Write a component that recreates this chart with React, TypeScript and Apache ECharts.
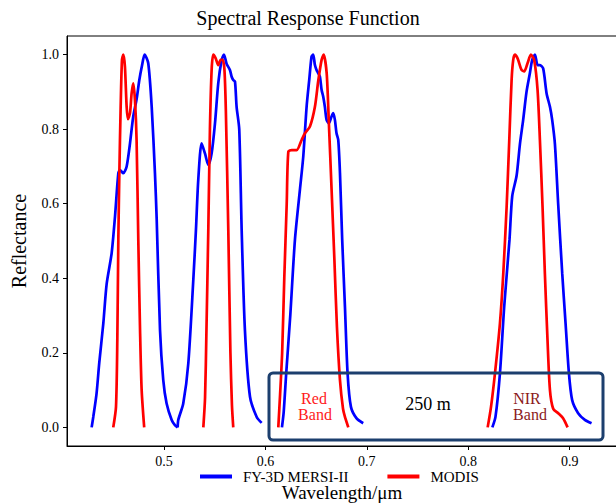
import React, { useEffect, useRef } from "react";
import * as echarts from "echarts";

const seriesNames = ["FY-3D MERSI-II", "MODIS"];
const seriesColors = ["#0000ff", "#ff0000"];
const xTicks = [0.5, 0.6, 0.7, 0.8, 0.9];
const yTicks = [0, 0.2, 0.4, 0.6, 0.8, 1.0];

// FY-3D MERSI-II spectral response (wavelength µm, response)
const mersiBand1 = [
  [0.4287, 0], [0.4303, 0.028], [0.4335, 0.09], [0.4362, 0.173], [0.4402, 0.279], [0.4435, 0.385],
  [0.4484, 0.467], [0.4517, 0.565], [0.455, 0.682], [0.4566, 0.69], [0.4599, 0.682], [0.4632, 0.7],
  [0.4665, 0.762], [0.4697, 0.834], [0.473, 0.88], [0.4757, 0.932], [0.4783, 0.97], [0.4809, 1.0],
  [0.4845, 0.977], [0.4879, 0.86], [0.4911, 0.682], [0.4928, 0.56], [0.4961, 0.261], [0.4993, 0.127],
  [0.5026, 0.064], [0.5076, 0.02], [0.5108, 0.006], [0.5135, 0],
];
const mersiBand2 = [
  [0.5135, 0], [0.5141, 0.02], [0.519, 0.064], [0.524, 0.172], [0.5289, 0.395], [0.5315, 0.529],
  [0.5338, 0.664], [0.5371, 0.762], [0.5404, 0.735], [0.5437, 0.704], [0.547, 0.735], [0.5503, 0.816],
  [0.5535, 0.923], [0.5569, 0.986], [0.5591, 1.0], [0.5618, 0.975], [0.565, 0.959], [0.5668, 0.94],
  [0.5683, 0.932], [0.57, 0.928], [0.5716, 0.86], [0.5742, 0.8], [0.5766, 0.529], [0.5798, 0.261],
  [0.5848, 0.082], [0.5914, 0.028], [0.5963, 0.012],
];
const mersiBand3 = [
  [0.6163, 0], [0.618, 0.04], [0.6205, 0.145], [0.6245, 0.3], [0.6291, 0.503], [0.634, 0.637],
  [0.6373, 0.726], [0.6406, 0.86], [0.6432, 0.932], [0.6455, 0.995], [0.6471, 1.0], [0.6488, 0.972],
  [0.6504, 0.959], [0.6521, 0.95], [0.6537, 0.941], [0.6554, 0.905], [0.657, 0.887], [0.6586, 0.86],
  [0.6603, 0.825], [0.6626, 0.816], [0.6652, 0.834], [0.6668, 0.843], [0.6685, 0.825], [0.6701, 0.789],
  [0.6718, 0.771], [0.6735, 0.682], [0.6757, 0.503], [0.6784, 0.324], [0.681, 0.145], [0.6843, 0.055],
  [0.6899, 0.024], [0.6964, 0.011],
];
const mersiBand4 = [
  [0.8237, 0], [0.8268, 0.028], [0.8312, 0.145], [0.8354, 0.324], [0.8406, 0.503], [0.8433, 0.62],
  [0.8476, 0.675], [0.8509, 0.76], [0.8541, 0.825], [0.8574, 0.9], [0.8607, 0.95], [0.863, 0.986],
  [0.8657, 1.0], [0.8683, 0.972], [0.8706, 0.972], [0.8738, 0.963], [0.8772, 0.896], [0.8805, 0.86],
  [0.8827, 0.825], [0.8854, 0.76], [0.8886, 0.6], [0.8926, 0.413], [0.8959, 0.279], [0.8992, 0.145],
  [0.9024, 0.073], [0.9083, 0.038], [0.9149, 0.02], [0.9215, 0.011],
];

// MODIS spectral response (wavelength µm, response)
const modisBand1 = [
  [0.45, 0], [0.4527, 0.055], [0.454, 0.234], [0.455, 0.503], [0.456, 0.682], [0.4573, 0.86],
  [0.4586, 0.986], [0.4599, 1.0], [0.4615, 0.968], [0.4632, 0.86], [0.4645, 0.827], [0.4665, 0.843],
  [0.4681, 0.896], [0.4697, 0.923], [0.4714, 0.878], [0.473, 0.771], [0.4747, 0.5], [0.4765, 0.25],
  [0.478, 0.1], [0.4805, 0],
];
const modisBand2 = [
  [0.5388, 0], [0.5405, 0.08], [0.5418, 0.25], [0.5437, 0.53], [0.5453, 0.8], [0.547, 0.96],
  [0.5486, 1.0], [0.551, 0.99], [0.5535, 0.972], [0.5559, 0.986], [0.5579, 0.986], [0.5596, 0.96],
  [0.561, 0.85], [0.5634, 0.53], [0.5655, 0.2], [0.567, 0.06], [0.5683, 0],
];
const modisBand3 = [
  [0.6127, 0], [0.6145, 0.09], [0.6165, 0.2], [0.6186, 0.4], [0.621, 0.6], [0.6226, 0.74],
  [0.6259, 0.744], [0.6308, 0.744], [0.6357, 0.771], [0.639, 0.789], [0.6439, 0.807], [0.6488, 0.86],
  [0.6521, 0.93], [0.6554, 0.986], [0.6574, 1.0], [0.6604, 0.95], [0.6625, 0.82], [0.6652, 0.64],
  [0.668, 0.45], [0.6705, 0.27], [0.6735, 0.127], [0.6765, 0.05], [0.6784, 0.028], [0.6817, 0],
];
const modisBand4 = [
  [0.8191, 0], [0.8224, 0.055], [0.8263, 0.145], [0.8312, 0.279], [0.8345, 0.413], [0.8378, 0.592],
  [0.8404, 0.771], [0.8427, 0.932], [0.8443, 0.986], [0.846, 1.0], [0.8486, 0.99], [0.8525, 0.959],
  [0.8551, 0.955], [0.8584, 0.977], [0.8617, 1.0], [0.8649, 0.986], [0.8683, 0.905], [0.8706, 0.771],
  [0.8732, 0.592], [0.8755, 0.413], [0.8781, 0.234], [0.8805, 0.1], [0.8837, 0.05], [0.8886, 0.038],
  [0.8936, 0.024], [0.8979, 0],
];

const mersiBands = [mersiBand1, mersiBand2, mersiBand3, mersiBand4];
const modisBands = [modisBand1, modisBand2, modisBand3, modisBand4];

const FONT = "Liberation Serif";

export default function App() {
  const ref = useRef<HTMLDivElement>(null);
  useEffect(() => {
    document.body.style.margin = "0";
    const chart = echarts.init(ref.current!, null, { renderer: "svg" });
    const mk = (name: string, color: string, data: number[][]) => ({
      type: "line",
      name,
      data,
      symbol: "none",
      smooth: 0.25,
      lineStyle: { color, width: 2.7 },
      itemStyle: { color },
    });
    const option: any = {
      animation: false,
      backgroundColor: "#ffffff",
      textStyle: { fontFamily: FONT, color: "#000" },
      title: {
        text: "Spectral Response Function",
        left: "center",
        top: 8,
        padding: [0, 0, 0, 66],
        textStyle: { fontFamily: FONT, fontSize: 20, fontWeight: "normal", color: "#000" },
      },
      legend: {
        data: seriesNames.map((n, i) => ({ name: n, icon: "rect", itemStyle: { color: seriesColors[i] } })),
        left: 200,
        top: 469,
        itemWidth: 32,
        itemHeight: 4,
        itemGap: 39,
        padding: 0,
        textStyle: {
          fontFamily: FONT,
          fontSize: 15,
          lineHeight: 14,
          color: "#000",
          padding: [0, 0, 0, 6],
        },
      },
      grid: {
        left: 67,
        top: 36,
        right: -1,
        bottom: 57,
        show: true,
        borderColor: "#000",
        borderWidth: 1,
        outerBoundsMode: "none",
        containLabel: false,
      },
      xAxis: {
        type: "value",
        min: 0.4044,
        max: 0.9466,
        name: "Wavelength/μm",
        nameLocation: "middle",
        nameGap: 37,
        nameTextStyle: { fontFamily: FONT, fontSize: 19, color: "#000" },
        axisLine: { show: true, onZero: false, lineStyle: { color: "#000", width: 1 } },
        axisTick: { show: true, length: 4, customValues: xTicks, lineStyle: { color: "#000" } },
        axisLabel: {
          customValues: xTicks,
          fontFamily: FONT,
          fontSize: 14,
          color: "#000",
          formatter: (v: number) => v.toFixed(1),
        },
        splitLine: { show: false },
      },
      yAxis: {
        type: "value",
        min: -0.05,
        max: 1.05,
        name: "Reflectance",
        nameLocation: "middle",
        nameGap: 38,
        nameTextStyle: { fontFamily: FONT, fontSize: 20, color: "#000" },
        axisLine: { show: true, onZero: false, lineStyle: { color: "#000", width: 1 } },
        axisTick: { show: true, length: 4, customValues: yTicks, lineStyle: { color: "#000" } },
        axisLabel: {
          customValues: yTicks,
          fontFamily: FONT,
          fontSize: 14,
          color: "#000",
          formatter: (v: number) => v.toFixed(1),
        },
        splitLine: { show: false },
      },
      series: [
        ...mersiBands.map((b) => mk(seriesNames[0], seriesColors[0], b)),
        ...modisBands.map((b) => mk(seriesNames[1], seriesColors[1], b)),
      ],
      graphic: [
        {
          type: "rect",
          z: 100,
          shape: { x: 269, y: 373, width: 334, height: 67, r: 4 },
          style: { fill: "none", stroke: "#1c3f6e", lineWidth: 3 },
        },
        {
          type: "text",
          z: 101,
          x: 314,
          y: 398,
          style: {
            text: "Red",
            fill: "#ff1a1a",
            fontFamily: FONT,
            fontSize: 16,
            align: "center",
            verticalAlign: "middle",
          },
        },
        {
          type: "text",
          z: 101,
          x: 315,
          y: 414,
          style: {
            text: "Band",
            fill: "#ff1a1a",
            fontFamily: FONT,
            fontSize: 16,
            align: "center",
            verticalAlign: "middle",
          },
        },
        {
          type: "text",
          z: 101,
          x: 428,
          y: 404,
          style: {
            text: "250 m",
            fill: "#000",
            fontFamily: FONT,
            fontSize: 18,
            align: "center",
            verticalAlign: "middle",
          },
        },
        {
          type: "text",
          z: 101,
          x: 527,
          y: 398,
          style: {
            text: "NIR",
            fill: "#8b1a1a",
            fontFamily: FONT,
            fontSize: 16,
            align: "center",
            verticalAlign: "middle",
          },
        },
        {
          type: "text",
          z: 101,
          x: 530,
          y: 414,
          style: {
            text: "Band",
            fill: "#8b1a1a",
            fontFamily: FONT,
            fontSize: 16,
            align: "center",
            verticalAlign: "middle",
          },
        },
      ],
    };
    chart.setOption(option);
    return () => chart.dispose();
  }, []);
  return (
    <div
      ref={ref}
      style={{ position: "absolute", left: 0, top: 0, width: 616, height: 503 }}
    />
  );
}
